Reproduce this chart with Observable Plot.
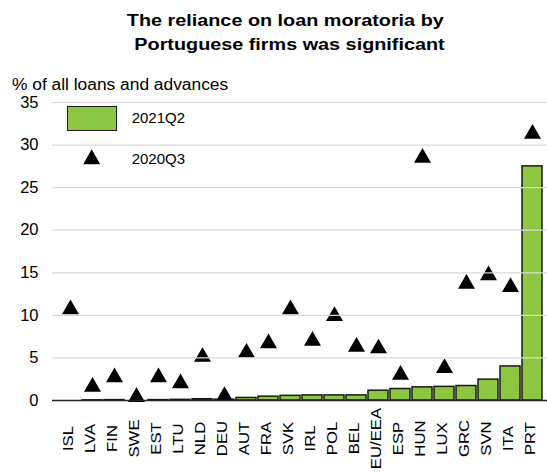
<!DOCTYPE html>
<html>
<head>
<meta charset="utf-8">
<script src="https://cdn.jsdelivr.net/npm/d3@7"></script>
<script src="https://cdn.jsdelivr.net/npm/@observablehq/plot@0.6"></script>
<style>
  html, body { margin: 0; padding: 0; background: #fff; }
  body { font-family: "Liberation Sans", Arial, sans-serif; color: #000; }
  #wrap { position: relative; width: 547px; height: 472px; overflow: hidden; }
  .abs { position: absolute; }
  .tline { position: absolute; left: 0; width: 547px; text-align: center; font-weight: bold; font-size: 16.8px; line-height: 23.3px; white-space: nowrap; }
  .tline span { display: inline-block; transform: scaleX(1.18); transform-origin: center; }
  #sub { left: 12px; top: 74.5px; font-size: 16px; line-height: 20px; white-space: nowrap; transform: scaleX(1.085); transform-origin: left center; }
  #chart { position: absolute; left: 0; top: 92px; }
  .leg { position: absolute; font-size: 15px; line-height: 18px; white-space: nowrap; }
</style>
</head>
<body>
<div id="wrap">
  <div class="tline" style="top:9.3px; left:12px;"><span>The reliance on loan moratoria by</span></div>
  <div class="tline" style="top:32.6px; left:16px;"><span>Portuguese firms was significant</span></div>
  <div id="sub" class="abs">% of all loans and advances</div>
  <div id="chart"></div>
  <div class="abs" style="left:66.7px; top:106px; width:50.6px; height:24.7px; background:#8dc641; border:1.5px solid #1a1a1a; box-sizing:border-box;"></div>
  <svg class="abs" style="left:80px; top:146px;" width="24" height="22"><polygon points="11.7,3.2 3.2,18.2 20.2,18.2" fill="#000"/></svg>
  <div class="leg" style="left:131.7px; top:109.3px;">2021Q2</div>
  <div class="leg" style="left:131.7px; top:150.3px;">2020Q3</div>
</div>
<script>
const categories = ["ISL","LVA","FIN","SWE","EST","LTU","NLD","DEU","AUT","FRA","SVK","IRL","POL","BEL","EU/EEA","ESP","HUN","LUX","GRC","SVN","ITA","PRT"];
const q2021Q2 = [0.0, 0.02, 0.05, 0.0, 0.05, 0.08, 0.15, 0.1, 0.3, 0.45, 0.55, 0.6, 0.6, 0.6, 1.15, 1.35, 1.55, 1.6, 1.7, 2.45, 4.0, 27.5];
const q2020Q3 = [11.0, 1.9, 3.0, 0.7, 3.0, 2.3, 5.4, 0.8, 5.9, 7.0, 11.0, 7.3, 10.2, 6.6, 6.4, 3.3, 28.8, 4.1, 14.0, 15.0, 13.6, 31.6];
const yTicks = [0, 5, 10, 15, 20, 25, 30, 35];

const data = categories.map((c, i) => ({cat: c, q2: q2021Q2[i], q3: q2020Q3[i]}));

const chart = Plot.plot({
  width: 547,
  height: 380,
  marginLeft: 52,
  marginRight: 0,
  marginTop: 10,
  marginBottom: 72,
  style: {fontFamily: "'Liberation Sans', Arial, sans-serif", fontSize: "16.5px", color: "#000", background: "transparent"},
  x: {type: "band", domain: categories, range: [55, 547], padding: 0.1, axis: null},
  y: {domain: [0, 35], ticks: yTicks, tickSize: 0, tickPadding: 14, label: null},
  marks: [
    Plot.barY(data, {x: "cat", y: "q2", fill: "#8dc641", stroke: "#1a1a1a", strokeWidth: 1.5}),
    Plot.dot(data, {x: "cat", y: "q3", symbol: "triangle", r: 6.3, fill: "#000", dy: 2.45}),
    Plot.ruleY(yTicks.filter(t => t > 0), {stroke: "#d9d9d9", strokeWidth: 1.2}),
    Plot.ruleY([0], {stroke: "#222", strokeWidth: 1.5}),
    Plot.text(categories, {x: d => d, frameAnchor: "bottom", dy: 38, dx: -2, rotate: -90, textAnchor: "middle", lineAnchor: "middle", fontSize: 15.5, fill: "#000"})
  ]
});
document.getElementById("chart").appendChild(chart);
chart.querySelectorAll("text").forEach(t => {
  const tr = t.getAttribute("transform");
  if (tr && tr.includes("rotate(-90)")) t.setAttribute("transform", tr + " scale(1.08,1)");
});
</script>
</body>
</html>
